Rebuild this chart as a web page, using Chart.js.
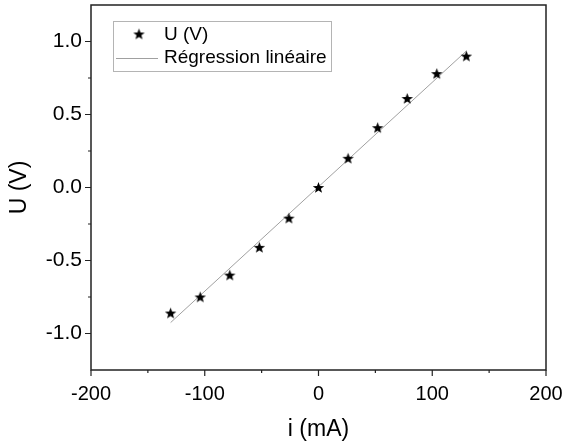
<!DOCTYPE html>
<html>
<head>
<meta charset="utf-8">
<script src="https://cdn.jsdelivr.net/npm/chart.js@4"></script>
<style>
  body { margin: 0; background: #fff; }
  #wrap { width: 574px; height: 446px; }
</style>
</head>
<body>
<div id="wrap"><canvas id="ivChart" width="574" height="446"></canvas></div>
<script>
// measured points: current (mA) and voltage (V)
const currentMA = [-130, -104, -78, -52, -26, 0, 26, 52, 78, 104, 130];
const voltageV = [-0.86, -0.75, -0.60, -0.41, -0.21, 0.00, 0.20, 0.41, 0.61, 0.78, 0.90];
// ends of the fitted line
const fitCurrentMA = [-130, 130];
const fitVoltageV = [-0.925, 0.935];
const xMajorTicks = [-200, -100, 0, 100, 200];
const xMinorTicks = [-150, -50, 50, 150];
const yMajorTicks = [-1.0, -0.5, 0.0, 0.5, 1.0];
const yMinorTicks = [-0.75, -0.25, 0.25, 0.75];
const seriesLabels = ['U (V)', 'Régression linéaire'];

const FONT = 'Liberation Sans, Arial, sans-serif';
const INK = '#222';

function makeStar(size) {
    const c = document.createElement('canvas');
    c.width = size; c.height = size;
    const g = c.getContext('2d');
    const cx = size / 2, cy = size / 2 + 0.5;
    const R = size / 2 - 0.5, r = R * 0.42;
    g.beginPath();
    for (let i = 0; i < 10; i++) {
        const rad = i % 2 === 0 ? R : r;
        const a = -Math.PI / 2 + i * Math.PI / 5;
        const px = cx + rad * Math.cos(a), py = cy + rad * Math.sin(a);
        if (i === 0) g.moveTo(px, py); else g.lineTo(px, py);
    }
    g.closePath();
    g.fillStyle = '#000';
    g.fill();
    return c;
}
const starImg = makeStar(13);

const framePlugin = {
    id: 'frameAndTicks',
    afterDraw(chart) {
        const { ctx, chartArea: a, scales } = chart;
        ctx.save();
        ctx.strokeStyle = INK;
        ctx.lineWidth = 1.5;
        ctx.strokeRect(a.left, a.top, a.right - a.left, a.bottom - a.top);
        ctx.lineWidth = 1.2;
        ctx.beginPath();
        const xTick = (v, len) => {
            const px = scales.x.getPixelForValue(v);
            ctx.moveTo(px, a.bottom); ctx.lineTo(px, a.bottom + len);
        };
        const yTick = (v, len) => {
            const py = scales.y.getPixelForValue(v);
            ctx.moveTo(a.left, py); ctx.lineTo(a.left - len, py);
        };
        xMajorTicks.forEach(v => xTick(v, 6));
        xMinorTicks.forEach(v => xTick(v, 3));
        yMajorTicks.forEach(v => yTick(v, 6));
        yMinorTicks.forEach(v => yTick(v, 3));
        ctx.stroke();

        // legend box
        const bx = 113, by = 21, bw = 218, bh = 50;
        ctx.fillStyle = '#fff';
        ctx.fillRect(bx, by, bw, bh);
        ctx.strokeStyle = '#b4b4b4';
        ctx.lineWidth = 1;
        ctx.strokeRect(bx + 0.5, by + 0.5, bw, bh);
        ctx.drawImage(starImg, 139 - starImg.width / 2, 34 - starImg.height / 2);
        ctx.strokeStyle = '#a0a0a0';
        ctx.beginPath();
        ctx.moveTo(116, 58.5); ctx.lineTo(158, 58.5);
        ctx.stroke();
        ctx.fillStyle = '#000';
        ctx.font = '19px ' + FONT;
        ctx.textBaseline = 'middle';
        ctx.fillText(seriesLabels[0], 164, 35);
        ctx.fillText(seriesLabels[1], 164, 58);
        ctx.restore();
    }
};

const ctx = document.getElementById('ivChart').getContext('2d');
const chart = new Chart(ctx, {
    type: 'scatter',
    data: {
        datasets: [{
            label: seriesLabels[0],
            data: currentMA.map((x, i) => ({ x: x, y: voltageV[i] })),
            pointStyle: starImg,
            showLine: false
        }, {
            label: seriesLabels[1],
            data: fitCurrentMA.map((x, i) => ({ x: x, y: fitVoltageV[i] })),
            showLine: true,
            borderColor: '#a0a0a0',
            borderWidth: 1,
            pointRadius: 0
        }]
    },
    options: {
        responsive: false,
        animation: false,
        devicePixelRatio: 1,
        layout: { padding: { top: 3, right: 28, left: 0, bottom: 0 } },
        plugins: { legend: { display: false }, tooltip: { enabled: false } },
        scales: {
            x: {
                min: -200, max: 200,
                afterBuildTicks: s => { s.ticks = xMajorTicks.map(v => ({ value: v })); },
                afterFit: s => { s.height = 76; s.paddingLeft = 0; s.paddingRight = 0; },
                grid: { display: false, drawTicks: false },
                border: { display: false },
                ticks: { color: '#000', font: { family: FONT, size: 20 }, padding: 12, maxRotation: 0,
                         callback: v => String(v) },
                title: { display: true, text: 'i (mA)', color: '#000', font: { family: FONT, size: 23 }, padding: { top: 0, bottom: 3 } }
            },
            y: {
                min: -1.25, max: 1.25,
                afterBuildTicks: s => { s.ticks = yMajorTicks.map(v => ({ value: v })); },
                afterFit: s => { s.width = 91; s.paddingTop = 0; s.paddingBottom = 0; },
                grid: { display: false, drawTicks: false },
                border: { display: false },
                ticks: { color: '#000', font: { family: FONT, size: 21 }, padding: 9,
                         callback: v => v.toFixed(1) },
                title: { display: true, text: 'U (V)', color: '#000', font: { family: FONT, size: 23 }, padding: { top: 6, bottom: 0 } }
            }
        }
    },
    plugins: [framePlugin]
});
</script>
</body>
</html>
